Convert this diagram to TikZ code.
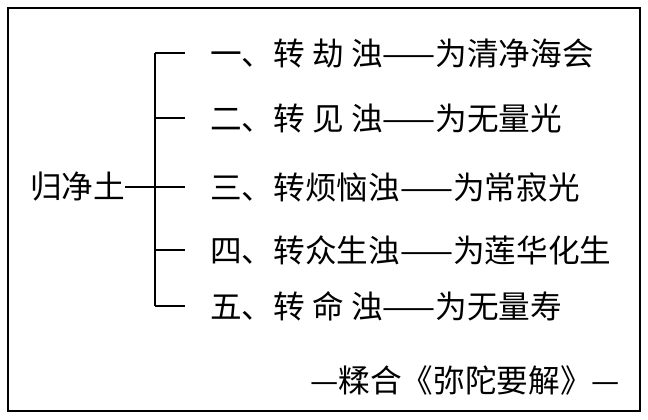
\documentclass[tikz,border=0pt]{standalone}
\usepackage{fontspec}
\newfontfamily\cjk{Noto Sans CJK SC}
\begin{document}
\begin{tikzpicture}[x=0.025cm,y=-0.025cm,
  item/.style={anchor=west,inner sep=0pt,font=\cjk\fontsize{22.5}{26}\selectfont},
  branch/.style={line width=1.6pt}]
\useasboundingbox (0,0) rectangle (648,419);
\draw[line width=1.8pt] (8,8) rectangle (640,411);
\node[item] (root) at (30,187) {归净土};
\coordinate (J) at (155,187);
\draw[branch] (root.east) -- (J);
\draw[branch] (155,53) -- (155,306);
\node[item] (I1) at (210,53) {一、转\ 劫\ 浊——为清净海会};
\node[item] (I2) at (210,118) {二、转\ 见\ 浊——为无量光};
\node[item] (I3) at (210,187) {三、转烦恼浊——为常寂光};
\node[item] (I4) at (210,250) {四、转众生浊——为莲华化生};
\node[item] (I5) at (210,306) {五、转\ 命\ 浊——为无量寿};
\foreach \y in {53,118,187,250,306}
  \draw[branch] (155,\y) -- (185,\y);
\node[item] (src) at (310,380) {—糅合《弥陀要解》—};
\end{tikzpicture}
\end{document}
